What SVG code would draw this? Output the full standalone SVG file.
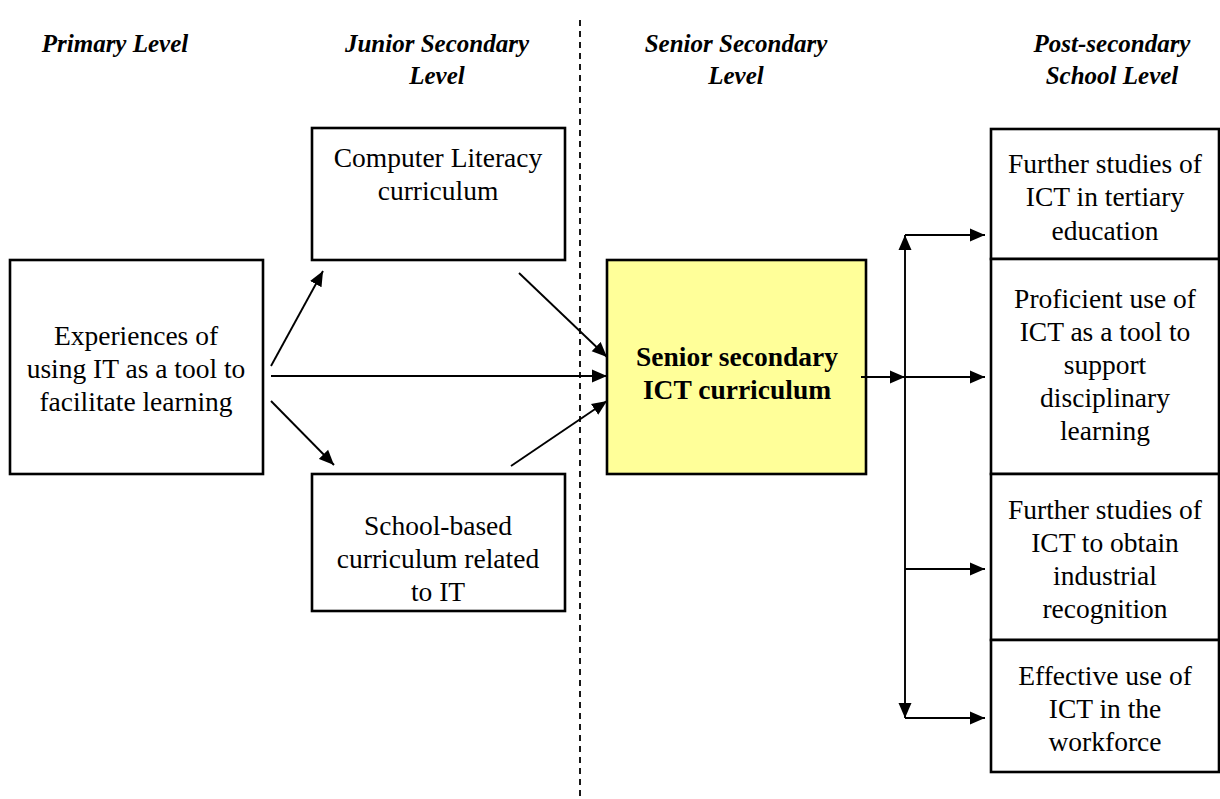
<svg xmlns="http://www.w3.org/2000/svg" width="1220" height="799" viewBox="0 0 1220 799">
<style>
.box{fill:#fff;stroke:#000;stroke-width:2.6}
.hl{fill:#ffff99;stroke:#000;stroke-width:2.6}
.t{font-family:"Liberation Serif","Times New Roman",serif;font-size:27.5px;fill:#000;text-anchor:middle}
.b{font-weight:bold}
.h{font-family:"Liberation Serif","Times New Roman",serif;font-size:25px;font-weight:bold;font-style:italic;fill:#000;text-anchor:middle}
.c{stroke:#000;stroke-width:1.9;fill:none}
</style>
<defs>
<marker id="ah" markerUnits="userSpaceOnUse" markerWidth="16" markerHeight="14" refX="15" refY="7" orient="auto">
<path d="M0,0.5 L15,7 L0,13.5 z" fill="#000"/>
</marker>
</defs>
<g id="headers">
<text class="h" x="115" y="52">Primary Level</text>
<text class="h" x="437" y="52">Junior Secondary</text>
<text class="h" x="437" y="84">Level</text>
<text class="h" x="736" y="52">Senior Secondary</text>
<text class="h" x="736" y="84">Level</text>
<text class="h" x="1112" y="52">Post-secondary</text>
<text class="h" x="1112" y="84">School Level</text>
</g>
<g id="divider">
<line x1="580" y1="20" x2="580" y2="799" stroke="#000" stroke-width="1.8" stroke-dasharray="6,5"/>
</g>
<g id="n-primary">
<rect class="box" x="10" y="260" width="253" height="214"/>
<text class="t" x="136" y="345">Experiences of</text>
<text class="t" x="136" y="378">using IT as a tool to</text>
<text class="t" x="136" y="411">facilitate learning</text>
</g>
<g id="n-cl">
<rect class="box" x="312" y="128" width="253" height="132"/>
<text class="t" x="438" y="167">Computer Literacy</text>
<text class="t" x="438" y="200">curriculum</text>
</g>
<g id="n-sb">
<rect class="box" x="312" y="474" width="253" height="137"/>
<text class="t" x="438" y="535">School-based</text>
<text class="t" x="438" y="568">curriculum related</text>
<text class="t" x="438" y="601">to IT</text>
</g>
<g id="n-ss">
<rect class="hl" x="607" y="260" width="259" height="214"/>
<text class="t b" x="737" y="366">Senior secondary</text>
<text class="t b" x="737" y="399">ICT curriculum</text>
</g>
<g id="n-out1">
<rect class="box" x="991" y="129" width="228" height="130"/>
<text class="t" x="1105" y="173">Further studies of</text>
<text class="t" x="1105" y="206">ICT in tertiary</text>
<text class="t" x="1105" y="240">education</text>
</g>
<g id="n-out2">
<rect class="box" x="991" y="259" width="228" height="215"/>
<text class="t" x="1105" y="308">Proficient use of</text>
<text class="t" x="1105" y="341">ICT as a tool to</text>
<text class="t" x="1105" y="374">support</text>
<text class="t" x="1105" y="407">disciplinary</text>
<text class="t" x="1105" y="440">learning</text>
</g>
<g id="n-out3">
<rect class="box" x="991" y="474" width="228" height="166"/>
<text class="t" x="1105" y="519">Further studies of</text>
<text class="t" x="1105" y="552">ICT to obtain</text>
<text class="t" x="1105" y="585">industrial</text>
<text class="t" x="1105" y="618">recognition</text>
</g>
<g id="n-out4">
<rect class="box" x="991" y="640" width="228" height="132"/>
<text class="t" x="1105" y="685">Effective use of</text>
<text class="t" x="1105" y="718">ICT in the</text>
<text class="t" x="1105" y="751">workforce</text>
</g>
<g id="connectors">
<line class="c" x1="271" y1="366" x2="323" y2="271" marker-end="url(#ah)"/>
<line class="c" x1="271" y1="376" x2="607" y2="376" marker-end="url(#ah)"/>
<line class="c" x1="271" y1="401" x2="334" y2="465" marker-end="url(#ah)"/>
<line class="c" x1="519" y1="273" x2="607" y2="357" marker-end="url(#ah)"/>
<line class="c" x1="511" y1="466" x2="607" y2="401" marker-end="url(#ah)"/>
<line class="c" x1="861" y1="377" x2="905" y2="377" marker-end="url(#ah)"/>
<line class="c" x1="905" y1="377" x2="905" y2="235" marker-end="url(#ah)"/>
<line class="c" x1="905" y1="377" x2="905" y2="718" marker-end="url(#ah)"/>
<line class="c" x1="905" y1="235" x2="985" y2="235" marker-end="url(#ah)"/>
<line class="c" x1="905" y1="377" x2="985" y2="377" marker-end="url(#ah)"/>
<line class="c" x1="905" y1="569" x2="985" y2="569" marker-end="url(#ah)"/>
<line class="c" x1="905" y1="718" x2="985" y2="718" marker-end="url(#ah)"/>
</g>
</svg>
